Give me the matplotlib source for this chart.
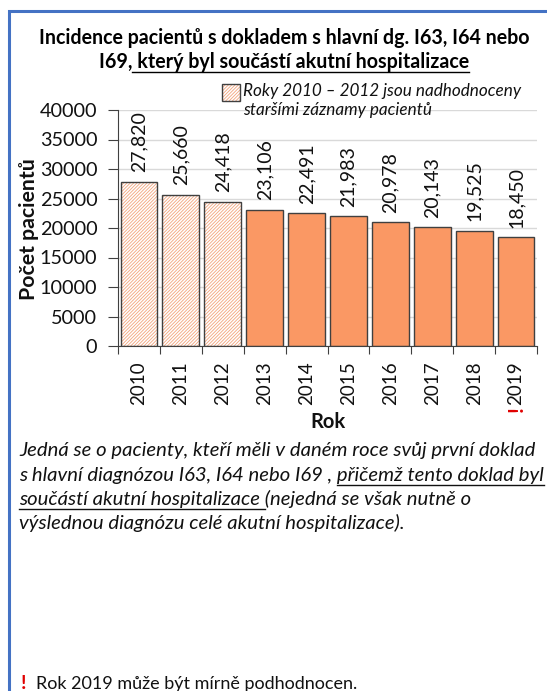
import matplotlib
matplotlib.use("Agg")
import matplotlib.pyplot as plt
from matplotlib.lines import Line2D
from matplotlib.patches import Rectangle

W, H = 547, 691

years = ["2010", "2011", "2012", "2013", "2014", "2015", "2016", "2017", "2018", "2019"]
patients = [27820, 25660, 24418, 23106, 22491, 21983, 20978, 20143, 19525, 18450]
# roky 2010-2012 jsou nadhodnoceny
overestimated = [True, True, True, False, False, False, False, False, False, False]

title_1 = "Incidence pacientů s dokladem s hlavní dg. I63, I64 nebo"
title_2 = "I69, který byl součástí akutní hospitalizace"
legend_lines = ["Roky 2010 – 2012 jsou nadhodnoceny", "staršími záznamy pacientů"]
note_lines = [
    "Jedná se o pacienty, kteří měli v daném roce svůj první doklad",
    "s hlavní diagnózou I63, I64 nebo I69 , přičemž tento doklad byl",
    "součástí akutní hospitalizace (nejedná se však nutně o",
    "výslednou diagnózu celé akutní hospitalizace).",
]
warning = "Rok 2019 může být mírně podhodnocen."

ORANGE = "#FA9864"
HATCH = "#F3A47C"
EDGE = "#404040"
TEXT = "#111111"
BLUE = "#4472C4"

plt.rcParams["font.family"] = ["Lato", "DejaVu Sans"]
plt.rcParams["hatch.linewidth"] = 0.6

fig = plt.figure(figsize=(W / 100, H / 100), dpi=100)
renderer = fig.canvas.get_renderer()


def fx(x):
    return x / W


def fy(y):
    return 1 - y / H


def width_of(s, **kw):
    t = fig.text(0, 0, s, **kw)
    w = t.get_window_extent(renderer).width
    t.remove()
    return w


def underline(x0, x1, y, color=TEXT):
    fig.add_artist(Line2D([fx(x0), fx(x1)], [fy(y), fy(y)], lw=1, color=color))


# modry ramecek vlevo a nahore
fig.add_artist(Line2D([fx(9), fx(9), fx(W + 5)], [fy(H + 5), fy(11), fy(11)],
                      lw=2.2, color=BLUE, solid_joinstyle="miter"))

ax = fig.add_axes([fx(118), fy(346), (537 - 118) / W, (346 - 110) / H])

pos = list(range(len(years)))
old_x = [p for p, o in zip(pos, overestimated) if o]
old_v = [v for v, o in zip(patients, overestimated) if o]
new_x = [p for p, o in zip(pos, overestimated) if not o]
new_v = [v for v, o in zip(patients, overestimated) if not o]

bw = 0.88
hatch = "/" * 10
ax.bar(old_x, old_v, width=bw, color="white", edgecolor=HATCH, hatch=hatch, linewidth=0, zorder=2)
ax.bar(old_x, old_v, width=bw, fill=False, edgecolor=EDGE, linewidth=1, zorder=3)
ax.bar(new_x, new_v, width=bw, color=ORANGE, edgecolor=EDGE, linewidth=1, zorder=2)

for p, v in zip(pos, patients):
    ax.text(p, v + 1600, f"{v:,}", rotation=90, ha="center", va="bottom",
            fontsize=14, color=TEXT)

ax.set_xlim(-0.5, len(years) - 0.5)
ax.set_ylim(0, 40000)
ax.set_yticks(range(0, 40001, 5000))
ax.yaxis.grid(True, color="#D9D9D9", lw=1)
ax.set_axisbelow(True)

ax.set_xticks([p - 0.5 for p in range(len(years) + 1)])
ax.set_xticklabels([])
ax.set_xticks(pos, minor=True)
ax.set_xticklabels(years, minor=True, rotation=90, fontsize=13.5, color=TEXT)
ax.tick_params(axis="x", which="major", length=6, color=EDGE)
ax.tick_params(axis="x", which="minor", length=0, pad=11)
ax.tick_params(axis="y", length=7, pad=8, labelsize=14.3, labelcolor=TEXT, color=EDGE)

for side in ["top", "right"]:
    ax.spines[side].set_visible(False)
for side in ["left", "bottom"]:
    ax.spines[side].set_color(EDGE)

fig.text(fx(29), fy(229), "Počet pacientů", rotation=90, ha="center", va="center",
         fontsize=15.3, fontweight="bold", color=TEXT)
fig.text(fx(327.5), fy(422), "Rok", ha="center", va="center",
         fontsize=14.5, fontweight="bold", color=TEXT)

# cerveny vykricnik pod rokem 2019
fig.text(fx(517), fy(409), "!", rotation=90, ha="center", va="center",
         fontsize=15, fontweight="bold", color="#E00000")

# nadpis
title_kw = dict(fontsize=14.1, fontweight="bold", color="black")
fig.text(fx(284), fy(44), title_1, ha="center", va="baseline", **title_kw)
fig.text(fx(284), fy(68), title_2, ha="center", va="baseline", **title_kw)
w_full = width_of(title_2, **title_kw)
w_pre = width_of("I69,", **title_kw)
left = 284 - w_full / 2
underline(left + w_pre, left + w_full, 71.5, color="black")

# legenda
fig.add_artist(Rectangle((fx(222), fy(101)), 18 / W, 17 / H, facecolor="white",
                         edgecolor=HATCH, hatch=hatch, lw=0, transform=fig.transFigure))
fig.add_artist(Rectangle((fx(222), fy(101)), 18 / W, 17 / H, fill=False,
                         edgecolor=EDGE, lw=1, transform=fig.transFigure))
fig.text(fx(243), fy(96), legend_lines[0], ha="left", va="baseline",
         fontsize=12.3, style="italic", color=TEXT)
fig.text(fx(243), fy(115), legend_lines[1], ha="left", va="baseline",
         fontsize=12.3, style="italic", color=TEXT)

# poznamka pod grafem
note_kw = dict(fontsize=14.6, style="italic", color=TEXT)
baselines = [456, 481, 505.5, 529]
for line, b in zip(note_lines, baselines):
    fig.text(fx(19), fy(b), line, ha="left", va="baseline", **note_kw)

space = width_of("a a", **note_kw) - width_of("aa", **note_kw)
start = width_of("s hlavní diagnózou I63, I64 nebo I69 ,", **note_kw) + space
end = width_of(note_lines[1], **note_kw)
underline(19 + start, 19 + end, 484.5)
end = width_of("součástí akutní hospitalizace", **note_kw) + space
underline(19, 19 + end, 509)

fig.text(fx(24), fy(689), "!", ha="center", va="baseline", fontsize=14,
         fontweight="bold", color="#E00000")
fig.text(fx(36), fy(689), warning, ha="left", va="baseline", fontsize=13, color=TEXT)

fig.savefig("out.png", dpi=100)
